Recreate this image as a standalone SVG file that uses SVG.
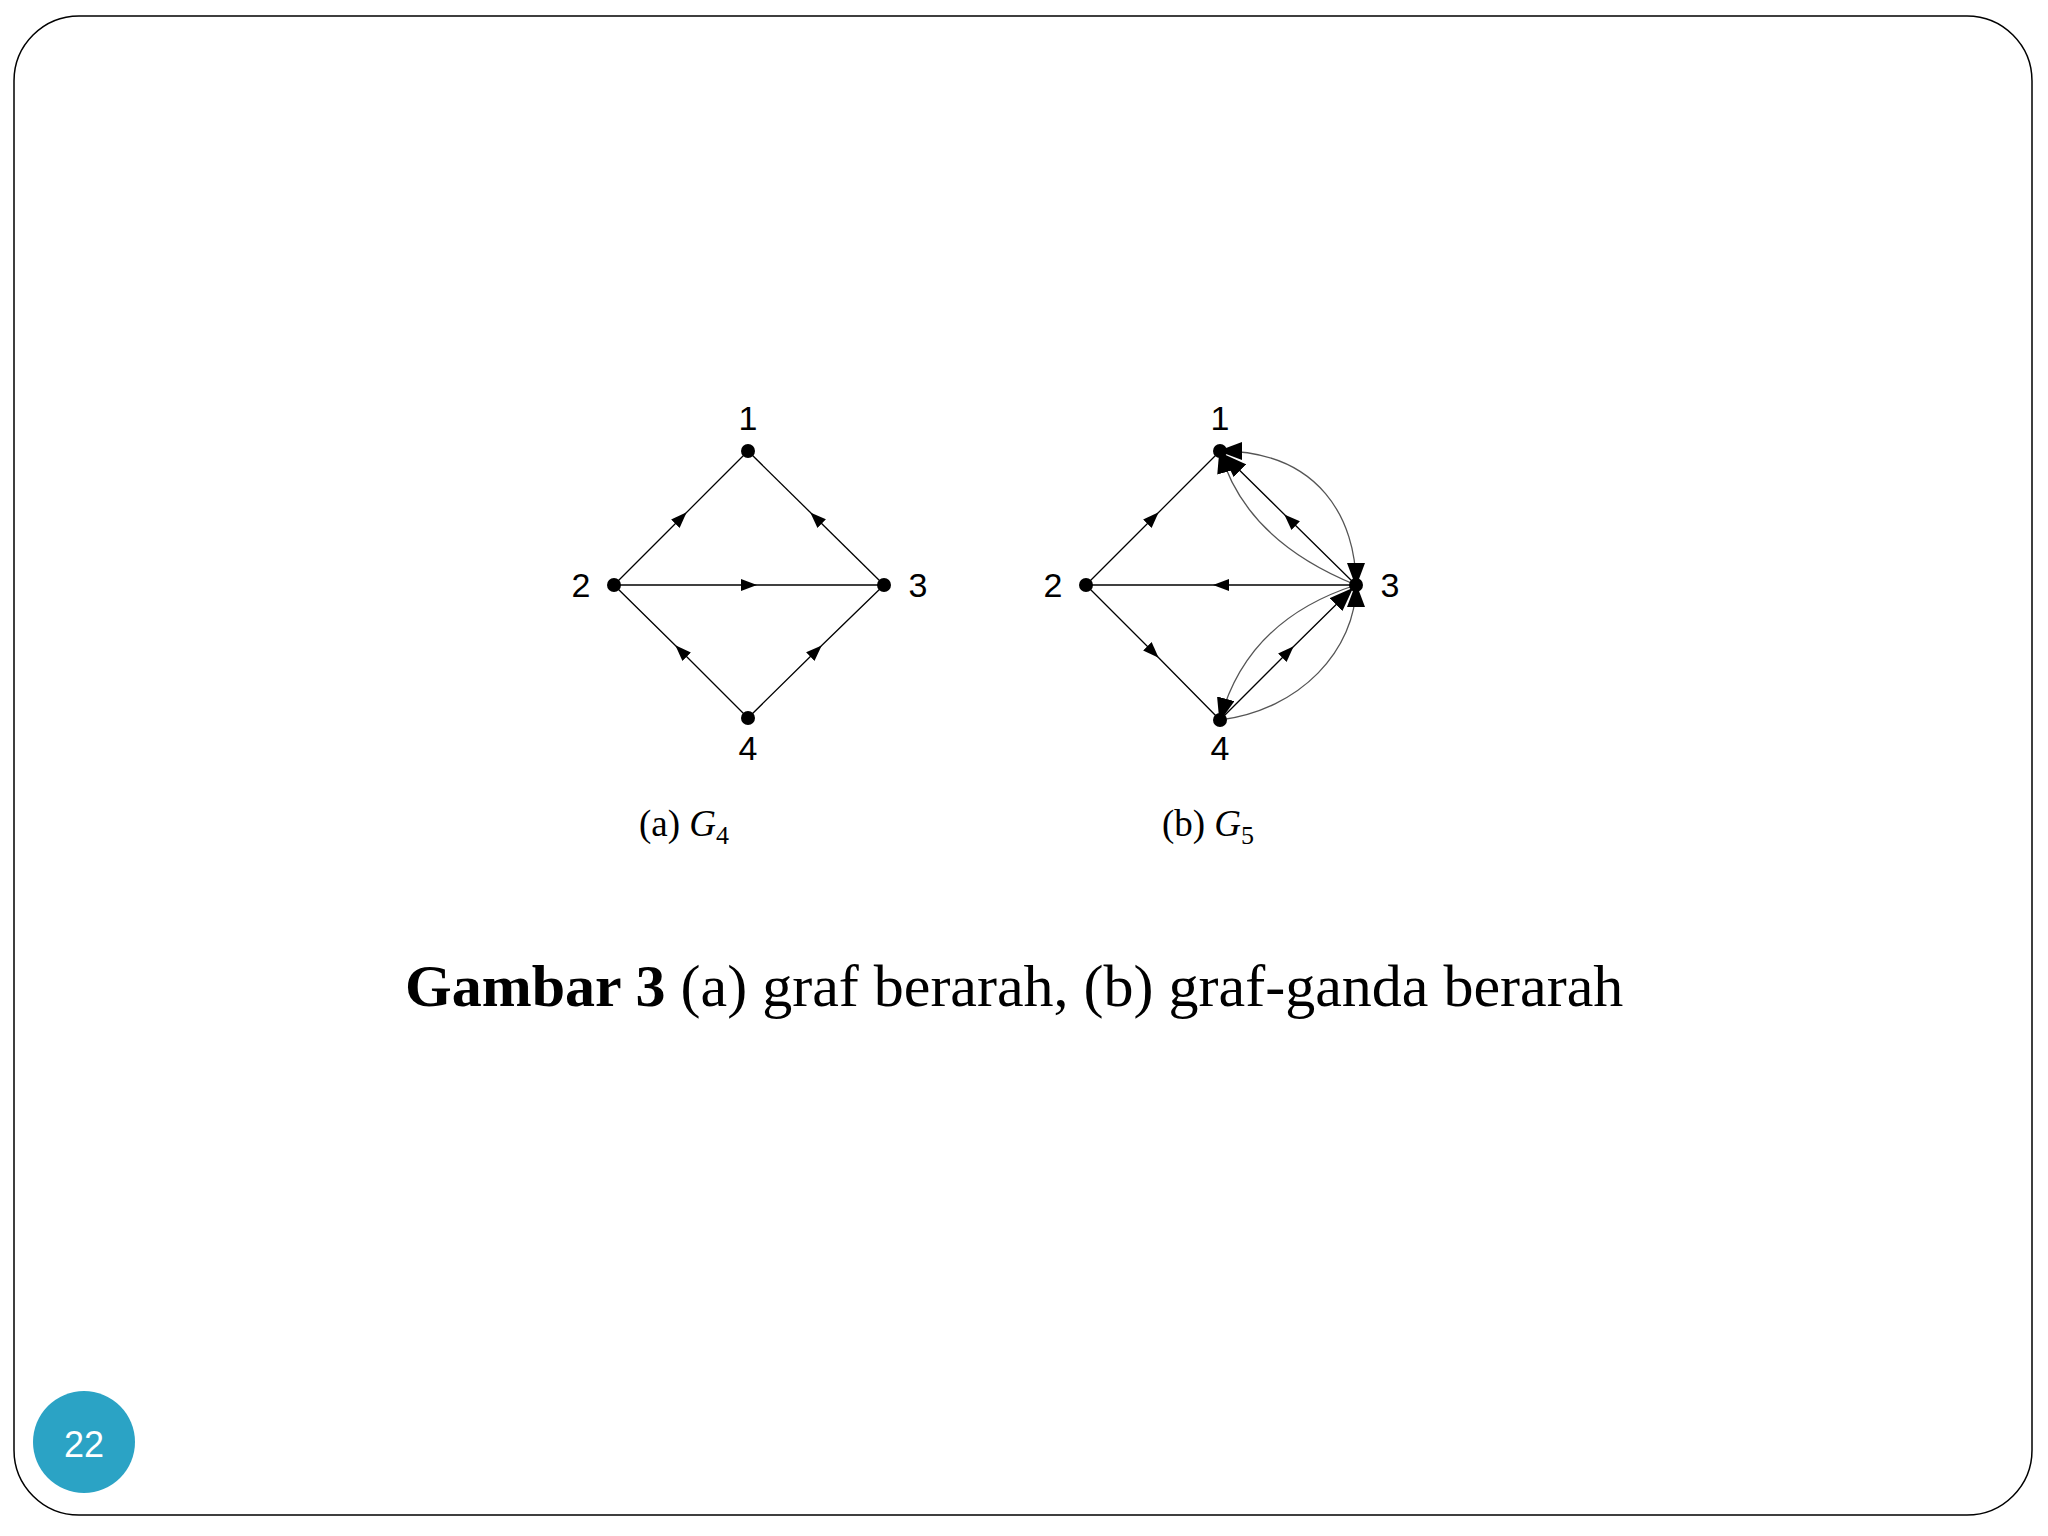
<svg xmlns="http://www.w3.org/2000/svg" width="2048" height="1536" viewBox="0 0 2048 1536">
<defs>
<marker id="mid" viewBox="0 0 16 12" refX="8" refY="6" markerWidth="16" markerHeight="12" markerUnits="userSpaceOnUse" orient="auto"><path d="M0,0 L16,6 L0,12 Z" fill="#000"/></marker>
<marker id="end" viewBox="0 0 24 18" refX="28" refY="9" markerWidth="24" markerHeight="18" markerUnits="userSpaceOnUse" orient="auto"><path d="M0,0 L24,9 L0,18 Z" fill="#000"/></marker>
<marker id="endc" viewBox="0 0 24 18" refX="22" refY="9" markerWidth="24" markerHeight="18" markerUnits="userSpaceOnUse" orient="auto"><path d="M0,0 L24,9 L0,18 Z" fill="#000"/></marker>
<marker id="startc" viewBox="0 0 24 18" refX="2" refY="9" markerWidth="24" markerHeight="18" markerUnits="userSpaceOnUse" orient="auto"><path d="M24,0 L0,9 L24,18 Z" fill="#000"/></marker>
</defs>
<style>
.e{fill:none;stroke:#000;stroke-width:1.3}
.c{fill:none;stroke:#555;stroke-width:1.3}
.n{fill:#000}
.l{font-family:"Liberation Sans",Arial,sans-serif;font-size:34px;text-anchor:middle;dominant-baseline:central}
.cap{font-family:"Liberation Serif","Times New Roman",serif;font-size:37px;text-anchor:middle}
</style>
<rect x="14" y="16" width="2018" height="1499" rx="65" fill="#fff" stroke="#000" stroke-width="1.5"/>
<g id="connectors">
<path class="e" d="M614,585 L681,518 L748,451" marker-mid="url(#mid)"/>
<path class="e" d="M884,585 L816,518 L748,451" marker-mid="url(#mid)"/>
<path class="e" d="M614,585 L749,585 L884,585" marker-mid="url(#mid)"/>
<path class="e" d="M748,718 L681,651 L614,585" marker-mid="url(#mid)"/>
<path class="e" d="M748,718 L816,651 L884,585" marker-mid="url(#mid)"/>
<path class="e" d="M1086,585 L1153,518 L1220,451" marker-mid="url(#mid)"/>
<path class="e" d="M1356,585 L1221,585 L1086,585" marker-mid="url(#mid)"/>
<path class="e" d="M1086,585 L1153,652 L1220,720" marker-mid="url(#mid)"/>
<path class="e" d="M1356,585 L1290,520 L1220,451" marker-mid="url(#mid)" marker-end="url(#end)"/>
<path class="e" d="M1220,720 L1288,652 L1356,585" marker-mid="url(#mid)" marker-end="url(#end)"/>
<path class="c" d="M1220,451 C1320,451 1356,520 1356,585" marker-start="url(#startc)" marker-end="url(#endc)"/>
<path class="c" d="M1356,585 Q1245,540 1220,451" marker-end="url(#endc)"/>
<path class="c" d="M1356,585 Q1247,620 1220,720" marker-end="url(#endc)"/>
<path class="c" d="M1220,720 C1300,710 1356,650 1356,585" marker-end="url(#endc)"/>
</g>
<g id="graphA">
<g id="a1"><circle class="n" cx="748" cy="451" r="7"/><text class="l" x="748" y="418">1</text></g>
<g id="a2"><circle class="n" cx="614" cy="585" r="7"/><text class="l" x="581" y="585">2</text></g>
<g id="a3"><circle class="n" cx="884" cy="585" r="7"/><text class="l" x="918" y="585">3</text></g>
<g id="a4"><circle class="n" cx="748" cy="718" r="7"/><text class="l" x="748" y="748">4</text></g>
</g>
<g id="graphB">
<g id="b1"><circle class="n" cx="1220" cy="451" r="7"/><text class="l" x="1220" y="418">1</text></g>
<g id="b2"><circle class="n" cx="1086" cy="585" r="7"/><text class="l" x="1053" y="585">2</text></g>
<g id="b3"><circle class="n" cx="1356" cy="585" r="7"/><text class="l" x="1390" y="585">3</text></g>
<g id="b4"><circle class="n" cx="1220" cy="720" r="7"/><text class="l" x="1220" y="748">4</text></g>
</g>
<text class="cap" x="684" y="836">(a) <tspan font-style="italic">G</tspan><tspan font-size="26" dy="8">4</tspan></text>
<text class="cap" x="1208" y="836">(b) <tspan font-style="italic">G</tspan><tspan font-size="26" dy="8">5</tspan></text>
<text x="405" y="1006" font-family="'Liberation Serif','Times New Roman',serif" font-size="60"><tspan font-weight="bold">Gambar 3</tspan>  (a) graf berarah, (b) graf-ganda berarah</text>
<g id="page"><circle cx="84" cy="1442" r="51" fill="#2ba3c5"/><text x="84" y="1444" font-family="'Liberation Sans',Arial,sans-serif" font-size="36" fill="#fff" text-anchor="middle" dominant-baseline="central">22</text></g>
</svg>
